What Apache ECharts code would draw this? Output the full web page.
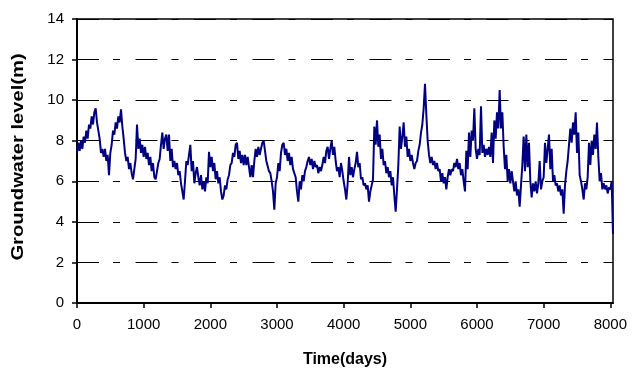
<!DOCTYPE html>
<html>
<head>
<meta charset="utf-8">
<script src="https://cdn.jsdelivr.net/npm/echarts@6/dist/echarts.min.js"></script>
<style>html,body{margin:0;padding:0;background:#fff;}#c{width:635px;height:380px;}</style>
</head>
<body>
<div id="c"></div>
<script>
// Time series: one value every stepDays days, starting at day 0
var startDay = 0;
var stepDays = 20;
var levels = [
  7.4, 7.9, 7.5, 8.0, 7.6, 8.2, 7.9, 8.5, 8.1, 8.8,
  8.6, 9.2, 8.8, 9.4, 9.6, 8.9, 8.5, 8.1, 7.4, 7.6,
  7.2, 7.6, 7.0, 7.3, 6.3, 7.4, 7.8, 8.5, 8.3, 8.9,
  8.6, 9.2, 8.9, 9.55, 8.7, 8.1, 7.4, 7.0, 7.2, 6.6,
  6.9, 6.4, 6.1, 6.6, 7.1, 8.8, 7.6, 8.1, 7.4, 7.8,
  7.2, 7.7, 7.1, 7.4, 6.8, 7.2, 6.5, 6.9, 6.2, 6.1,
  6.5, 6.9, 7.1, 7.8, 8.4, 7.6, 8.1, 8.3, 7.5, 8.3,
  7.0, 7.6, 6.7, 7.0, 6.6, 6.9, 6.3, 6.5, 5.9, 5.5,
  5.1, 6.0, 7.0, 6.8, 7.3, 7.8, 6.5, 7.0, 5.9, 6.4,
  6.7, 6.2, 5.8, 6.3, 5.6, 6.0, 5.5, 6.2, 5.9, 7.45,
  6.7, 7.2, 6.5, 6.9, 6.1, 6.5, 5.9, 6.2, 5.5, 5.1,
  5.3, 5.8, 5.6, 6.1, 6.3, 6.8, 6.9, 7.4, 7.2, 7.8,
  7.9, 7.1, 7.5, 6.9, 7.3, 6.8, 7.3, 6.8, 7.2, 6.7,
  6.2, 6.8, 6.2, 7.0, 7.6, 7.2, 7.7, 7.3, 7.6, 7.9,
  8.0, 7.5, 7.0, 7.0, 6.5, 6.4, 6.0, 5.5, 4.6, 5.9,
  6.2, 6.9, 6.5, 7.4, 7.8, 7.9, 7.3, 7.6, 7.0, 7.4,
  6.8, 7.2, 6.6, 6.6, 6.2, 5.5, 5.0, 6.0, 5.6, 6.3,
  6.0, 6.5, 6.7, 7.0, 7.2, 6.8, 7.1, 6.6, 7.0, 6.7,
  6.8, 6.4, 6.7, 6.5, 6.8, 7.2, 6.9, 7.5, 7.7, 7.1,
  7.6, 8.0, 7.3, 7.7, 7.0, 6.5, 6.7, 6.2, 6.9, 6.5,
  6.0, 5.6, 5.1, 5.9, 7.2, 6.3, 6.7, 6.2, 6.6, 6.9,
  7.45, 6.7, 6.9, 6.1, 6.2, 5.8, 5.9, 5.6, 5.8, 5.0,
  5.5, 5.8, 6.1, 8.7, 7.8, 9.0, 7.7, 8.3, 7.1, 7.6,
  6.8, 7.0, 6.4, 6.7, 6.2, 6.5, 5.8, 6.2, 5.3, 4.5,
  5.6, 6.8, 8.7, 7.6, 8.2, 8.9, 7.7, 8.2, 7.2, 7.6,
  7.0, 7.3, 6.9, 6.6, 6.9, 7.0, 7.5, 7.8, 8.4, 8.8,
  9.6, 10.8, 9.3, 8.0, 7.3, 6.9, 7.2, 6.8, 7.0, 6.6,
  6.9, 6.5, 6.6, 6.0, 6.4, 5.9, 6.2, 5.6, 6.2, 6.6,
  6.3, 6.6, 6.5, 6.9, 6.7, 7.1, 6.6, 6.9, 6.3, 6.6,
  6.0, 5.5, 7.5, 6.6, 8.4, 7.2, 8.5, 8.0, 9.6, 7.6,
  7.1, 7.6, 7.3, 9.7, 7.4, 7.8, 7.2, 7.6, 7.3, 7.7,
  7.2, 8.4, 6.9, 9.0, 8.1, 9.4, 8.6, 10.5, 8.6, 9.4,
  7.7, 6.6, 7.3, 6.0, 6.6, 5.9, 6.5, 6.0, 5.5, 6.0,
  5.3, 5.6, 4.75, 5.8, 6.8, 8.2, 6.5, 8.3, 6.7, 7.9,
  6.0, 5.2, 5.9, 5.5, 6.0, 5.4, 5.9, 7.0, 5.6, 6.0,
  6.2, 7.9, 6.9, 7.6, 8.3, 6.6, 7.6, 6.0, 6.3, 5.8,
  5.9, 5.5, 5.8, 5.3, 5.6, 4.4, 5.8, 6.5, 7.0, 7.8,
  8.6, 7.9, 8.9, 8.3, 9.4, 7.4, 8.4, 6.3, 6.0, 5.6,
  5.1, 5.9, 5.6, 6.2, 7.9, 6.8, 8.0, 7.3, 8.3, 7.6,
  8.9, 7.2, 6.0, 6.4, 5.6, 5.9, 5.6, 5.8, 5.4, 5.7,
  5.6, 6.0, 3.4
];
var xTickValues = [0, 1000, 2000, 3000, 4000, 5000, 6000, 7000, 8000];
var yTickValues = [0, 2, 4, 6, 8, 10, 12, 14];
var xTitle = 'Time(days)';
var yTitle = 'Groundwater level(m)';

var seriesData = levels.map(function (v, i) { return [startDay + i * stepDays, v]; });

var chart = echarts.init(document.getElementById('c'), null, {renderer: 'canvas'});
var font = 'Liberation Sans, Arial, sans-serif';
chart.setOption({
  animation: false,
  backgroundColor: '#ffffff',
  grid: {left: 77, top: 19, right: 22, bottom: 77, show: true, borderColor: '#000', borderWidth: 1.5, backgroundColor: 'transparent'},
  graphic: [{
    type: 'text', x: 19, y: 157, rotation: Math.PI / 2, scaleX: 1.26, scaleY: 1,
    style: {text: yTitle, fontFamily: font, fontWeight: 'bold', fontSize: 16, fill: '#000', align: 'center', verticalAlign: 'middle'}
  }],
  xAxis: {
    type: 'value', min: 0, max: 8040, interval: 1000,
    name: xTitle, nameLocation: 'middle', nameGap: 49,
    nameTextStyle: {fontFamily: font, fontWeight: 'bold', fontSize: 16, color: '#000'},
    axisLine: {show: true, lineStyle: {color: '#000', width: 2}},
    axisTick: {show: true, length: 5, lineStyle: {color: '#000', width: 1.5}, customValues: xTickValues},
    axisLabel: {margin: 14, fontFamily: font, fontSize: 15, color: '#000', customValues: xTickValues,
      formatter: function (v) { return String(v); }},
    splitLine: {show: false}
  },
  yAxis: {
    type: 'value', min: 0, max: 14, interval: 2,
    axisLine: {show: true, lineStyle: {color: '#000', width: 2}},
    axisTick: {show: true, length: 5, lineStyle: {color: '#000', width: 1.5}, customValues: yTickValues},
    axisLabel: {margin: 13, fontFamily: font, fontSize: 15, color: '#000', customValues: yTickValues,
      formatter: function (v) { return String(v); }},
    splitLine: {show: true, lineStyle: {color: '#000', width: 1, type: [22, 14, 7, 15.5]}}
  },
  series: [{
    type: 'line', data: seriesData, showSymbol: false, symbol: 'none',
    lineStyle: {color: '#000080', width: 2}, clip: true
  }]
});
</script>
</body>
</html>
